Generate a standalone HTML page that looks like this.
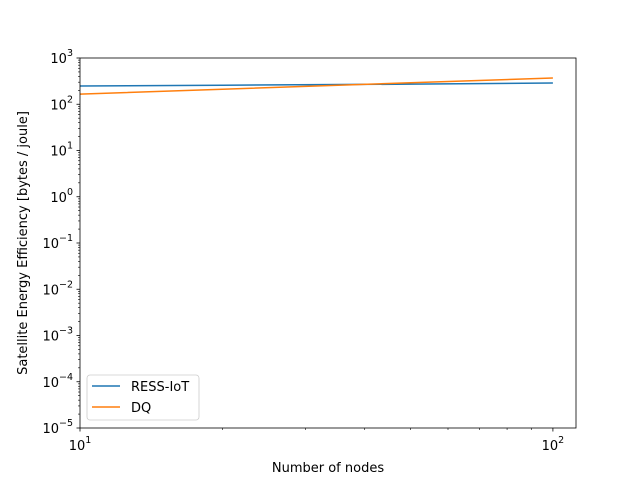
<!DOCTYPE html>
<html><head><meta charset="utf-8"><style>
body{margin:0;background:#fff;font-family:"Liberation Sans","DejaVu Sans",sans-serif}
svg text{font-family:"DejaVu Sans","Liberation Sans",sans-serif;font-size:13px;fill:#000}
</style></head><body>
<svg id="chart" width="640" height="480"></svg>
<script>
const nodes=[10,20,50,100];
const ressIoT=[248,258,272,288];
const dq=[166,211,291,370];
const yTickExps=[-5,-4,-3,-2,-1,0,1,2,3];
const xTickExps=[1,2];
const L=80,R=576,T=58,B=428;
const xMin=Math.log10(10),xMax=Math.log10(111.9),yMin=-5,yMax=3;
const sx=v=>L+(Math.log10(v)-xMin)/(xMax-xMin)*(R-L);
const sy=v=>B-(Math.log10(v)-yMin)/(yMax-yMin)*(B-T);
const svg=document.getElementById('chart');
const NS='http://www.w3.org/2000/svg';
function mk(t,a,p){const e=document.createElementNS(NS,t);for(const k in a)e.setAttribute(k,a[k]);(p||svg).appendChild(e);return e;}
yTickExps.forEach(ex=>{
  const y=sy(Math.pow(10,ex));
  const tk=mk('line',{x1:L-3.5,x2:L,y1:y,y2:y,stroke:'#000','stroke-width':0.8});
  
  
  const t=mk('text',{x:L-7,y:y+5,'text-anchor':'end'});
  
  
  t.innerHTML='10<tspan dy="-7" font-size="9.5">'+(ex<0?'\u2212'+(-ex):ex)+'</tspan>';
  if(ex<yMax){for(let m=2;m<10;m++){const ym=sy(m*Math.pow(10,ex));
    const mt=mk('line',{x1:L-2,x2:L,y1:ym,y2:ym,stroke:'#000','stroke-width':0.6});
    
    }}
});
xTickExps.forEach(ex=>{
  const x=sx(Math.pow(10,ex));
  const tk=mk('line',{x1:x,x2:x,y1:B,y2:B+3.5,stroke:'#000','stroke-width':0.8});
  
  
  const t=mk('text',{x:x,y:B+22,'text-anchor':'middle'});
  
  
  t.innerHTML='10<tspan dy="-7" font-size="9.5">'+ex+'</tspan>';
});
for(let m=2;m<=11;m++){const v=m<10?m*10:(m-9)*100;if(v===100)continue;const x=sx(v);if(x>R)break;
  const mt=mk('line',{x1:x,x2:x,y1:B,y2:B+2,stroke:'#000','stroke-width':0.6});
  
  }
function series(vals,color,name){
  const p=mk('polyline',{points:nodes.map((n,i)=>sx(n)+','+sy(vals[i])).join(' '),fill:'none',stroke:color,'stroke-width':1.5});
  
  
}
series(ressIoT,'#1f77b4','ress-iot-line');
series(dq,'#ff7f0e','dq-line');
const fr=mk('rect',{x:L,y:T,width:R-L,height:B-T,fill:'none',stroke:'#000','stroke-width':0.8});


const xt=mk('text',{x:(L+R)/2,y:472,'text-anchor':'middle'});xt.textContent='Number of nodes';


const yt=mk('text',{x:0,y:0,'text-anchor':'middle',transform:'translate(27,'+((T+B)/2)+') rotate(-90)'});yt.textContent='Satellite Energy Efficiency [bytes / joule]';


const lg=mk('g',{});


mk('rect',{x:87,y:375,width:112,height:45,rx:3,fill:'#fff','fill-opacity':0.8,stroke:'#ccc','stroke-width':0.8},lg);
[['RESS-IoT','#1f77b4',386],['DQ','#ff7f0e',407]].forEach(([n,c,y])=>{
  const e=mk('g',{},lg);
  
  
  mk('line',{x1:92,x2:120,y1:y,y2:y,stroke:c,'stroke-width':1.5},e);
  const t=mk('text',{x:131,y:y+5},e);t.textContent=n;
});
</script>
</body></html>
